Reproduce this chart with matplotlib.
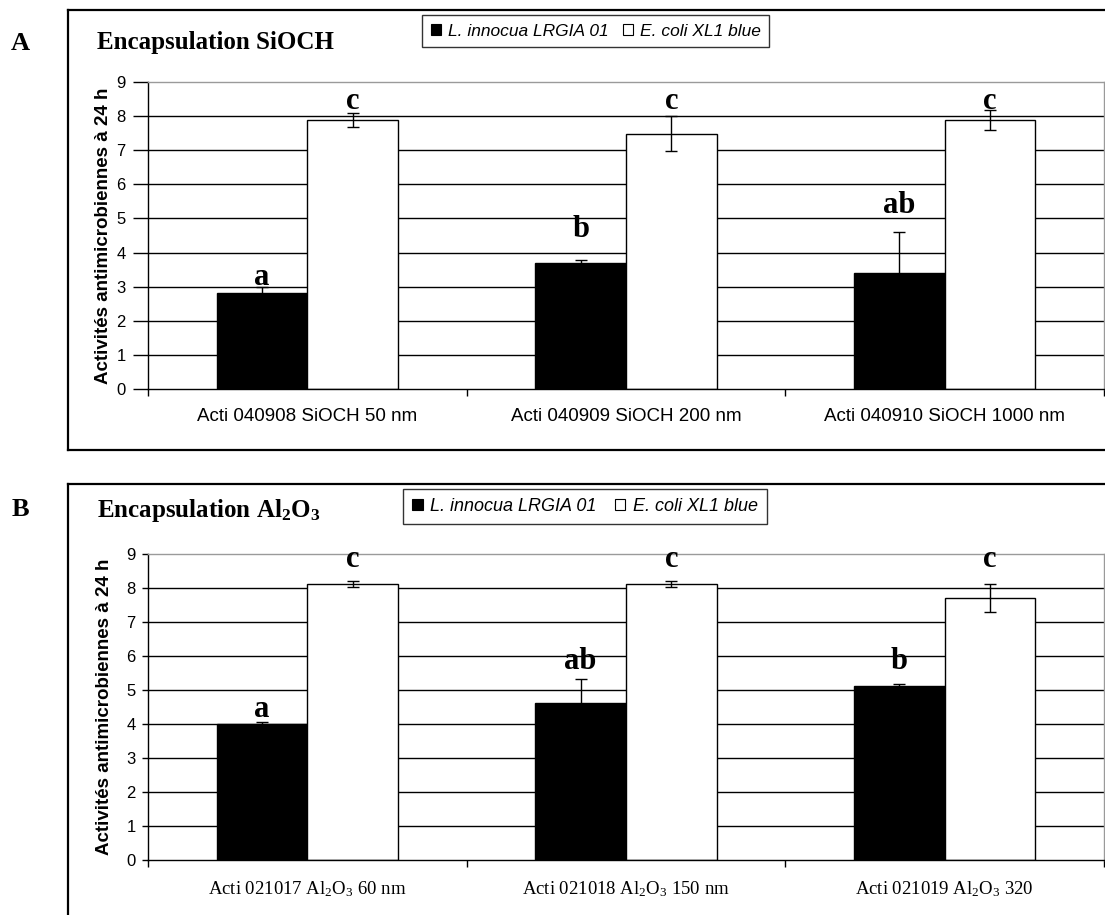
import matplotlib
matplotlib.use("Agg")
import matplotlib.pyplot as plt
from matplotlib.patches import Patch
from matplotlib.lines import Line2D

plt.rcParams['mathtext.default'] = 'regular'

# ---------------- data ----------------
cats_A = ["Acti 040908 SiOCH 50 nm", "Acti 040909 SiOCH 200 nm", "Acti 040910 SiOCH 1000 nm"]
listeria_A = [2.82, 3.70, 3.40]
listeria_err_A = [0.17, 0.08, 1.20]
ecoli_A = [7.88, 7.49, 7.88]
ecoli_err_A = [0.20, 0.52, 0.30]
letters_listeria_A = ["a", "b", "ab"]
letters_ecoli_A = ["c", "c", "c"]
letter_y_listeria_A = [3.05, 4.45, 5.15]
letter_y_ecoli_A = [8.2, 8.2, 8.2]

cats_B = ["Acti 021017 Al$_2$O$_3$ 60 nm", "Acti 021018 Al$_2$O$_3$ 150 nm", "Acti 021019 Al$_2$O$_3$ 320"]
listeria_B = [4.00, 4.62, 5.11]
listeria_err_B = [0.07, 0.70, 0.08]
ecoli_B = [8.12, 8.12, 7.71]
ecoli_err_B = [0.10, 0.10, 0.41]
letters_listeria_B = ["a", "ab", "b"]
letters_ecoli_B = ["c", "c", "c"]
letter_y_listeria_B = [4.22, 5.62, 5.62]
letter_y_ecoli_B = [8.62, 8.62, 8.62]

yticks = list(range(0, 10))
series_names = ["L. innocua LRGIA 01", "E. coli XL1 blue"]
ylabel = "Activités antimicrobiennes à 24 h"

W, H = 1105, 915
fig = plt.figure(figsize=(W / 100, H / 100), dpi=100)

def fx(px):
    return px / W

def fy(py):
    return 1 - py / H

SANS = "Liberation Sans"
SERIF = "Liberation Serif"
bw = 0.285

def draw_panel(ax, cats, lv, le, ev, ee, ll, le_txt, lly, ely, tickfont, ticklen, ylpad):
    x = list(range(len(cats)))
    xl = [i - bw / 2 for i in x]
    xe = [i + bw / 2 for i in x]
    for yv in range(1, 9):
        ax.axhline(yv, color="black", lw=1.0, zorder=0)
    ax.bar(xl, lv, width=bw, color="black", edgecolor="black", lw=1, zorder=2)
    ax.bar(xe, ev, width=bw, color="white", edgecolor="black", lw=1, zorder=2)
    ax.errorbar(xl, lv, yerr=le, fmt="none", ecolor="black", elinewidth=1,
                capsize=4, capthick=1, zorder=3)
    ax.errorbar(xe, ev, yerr=ee, fmt="none", ecolor="black", elinewidth=1,
                capsize=4, capthick=1, zorder=3)
    for i in x:
        ax.text(xl[i], lly[i], ll[i], ha="center", va="baseline",
                fontfamily=SERIF, fontweight="bold", fontsize=22, zorder=4)
        ax.text(xe[i], ely[i], le_txt[i], ha="center", va="baseline",
                fontfamily=SERIF, fontweight="bold", fontsize=22, zorder=4)
    ax.set_xlim(-0.5, len(cats) - 0.5)
    ax.set_ylim(0, 9)
    ax.set_yticks(yticks)
    ax.set_yticklabels([str(t) for t in yticks], fontfamily=SANS, fontsize=12)
    ax.set_xticks(x)
    ax.set_xticklabels(cats, fontfamily=tickfont, fontsize=13.5)
    ax.set_xticks([i - 0.5 for i in range(len(cats) + 1)], minor=True)
    ax.tick_params(axis="x", which="major", length=0, pad=14)
    ax.tick_params(axis="x", which="minor", length=5, width=1, direction="out")
    ax.tick_params(axis="y", length=ticklen, width=1, direction="out", pad=5)
    for s in ["left", "bottom"]:
        ax.spines[s].set_color("black")
        ax.spines[s].set_linewidth(1)
    for s in ["top", "right"]:
        ax.spines[s].set_color("#9a9a9a")
        ax.spines[s].set_linewidth(1)
    ax.set_ylabel(ylabel, fontfamily=SANS, fontweight="bold", fontsize=13.5, labelpad=ylpad)

axA = fig.add_axes([fx(148), fy(389), fx(1104 - 148), (389 - 82) / H])
draw_panel(axA, cats_A, listeria_A, listeria_err_A, ecoli_A, ecoli_err_A,
           letters_listeria_A, letters_ecoli_A, letter_y_listeria_A, letter_y_ecoli_A,
           SANS, 11, 3)

axB = fig.add_axes([fx(148), fy(860), fx(1104 - 148), (860 - 554) / H])
draw_panel(axB, cats_B, listeria_B, listeria_err_B, ecoli_B, ecoli_err_B,
           letters_listeria_B, letters_ecoli_B, letter_y_listeria_B, letter_y_ecoli_B,
           SERIF, 4, 9.5)

# frames
fl = dict(color="black", lw=1.6, transform=fig.transFigure)
fig.add_artist(Line2D([fx(68), fx(68)], [fy(10), fy(450)], **fl))
fig.add_artist(Line2D([fx(68), 1], [fy(10), fy(10)], **fl))
fig.add_artist(Line2D([fx(68), 1], [fy(450), fy(450)], **fl))
fig.add_artist(Line2D([fx(68), fx(68)], [fy(484), 0], **fl))
fig.add_artist(Line2D([fx(68), 1], [fy(484), fy(484)], **fl))

# panel letters & titles
fig.text(fx(20), fy(43), "A", fontfamily=SERIF, fontweight="bold", fontsize=19, ha="center", va="center")
fig.text(fx(20), fy(509), "B", fontfamily=SERIF, fontweight="bold", fontsize=19, ha="center", va="center")
fig.text(fx(97), fy(43), "Encapsulation SiOCH", fontfamily=SERIF, fontweight="bold",
         fontsize=18, ha="left", va="center")
fig.text(fx(97), fy(510), "Encapsulation Al$_2$O$_3$", fontfamily=SERIF, fontweight="bold",
         fontsize=18, ha="left", va="center")

# legends
handles = [Patch(facecolor="black", edgecolor="black", lw=0.8),
           Patch(facecolor="white", edgecolor="black", lw=0.8)]
for top, left, fsz, cs in [(15, 422, 12.5, 0.8), (489, 403, 13, 1.0)]:
    leg = fig.legend(handles, series_names, loc="upper left",
                     bbox_to_anchor=(fx(left), fy(top)), ncol=2,
                     prop=dict(family=SANS, style="italic", size=fsz),
                     frameon=True, fancybox=False, edgecolor="black",
                     handlelength=0.6, handleheight=0.6, handletextpad=0.4,
                     columnspacing=cs, borderpad=0.5, borderaxespad=0)
    leg.get_frame().set_linewidth(1)

fig.savefig("out.png", dpi=100)
